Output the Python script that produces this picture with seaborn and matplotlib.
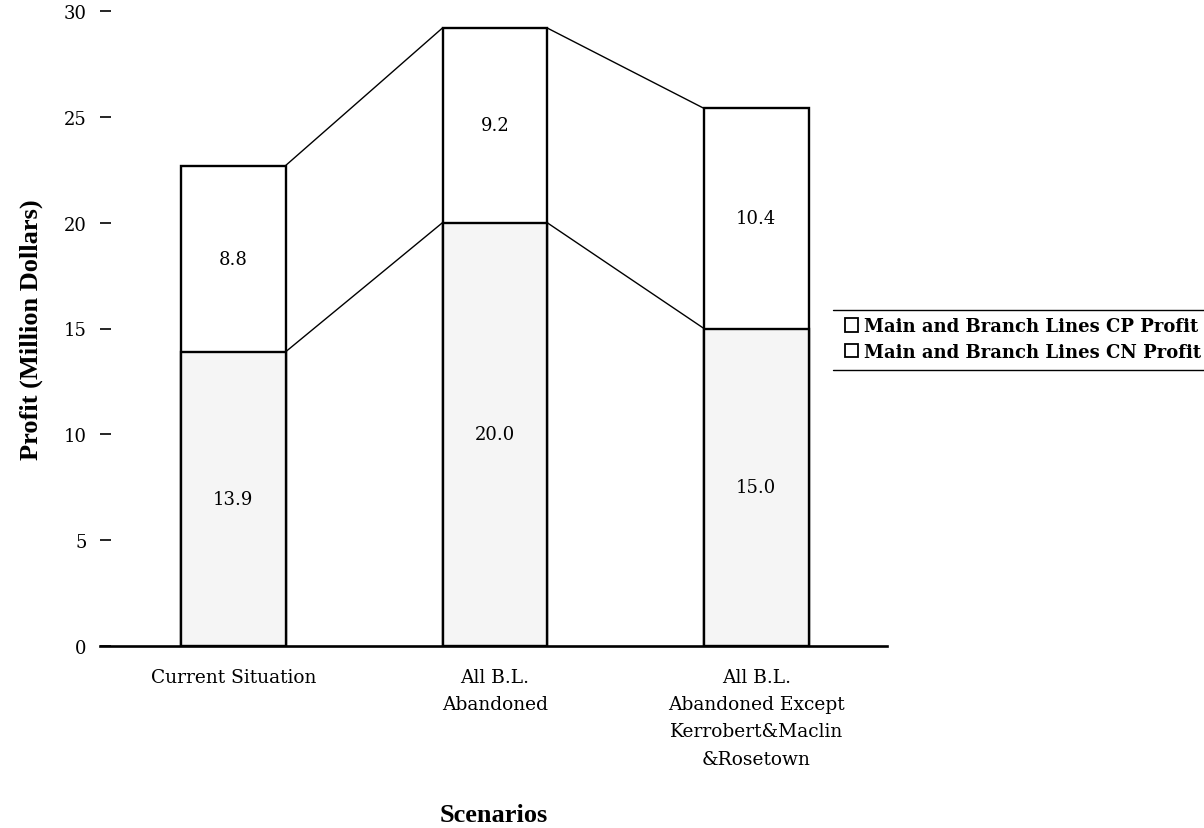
import matplotlib
matplotlib.use("Agg")
import matplotlib.pyplot as plt
from matplotlib.patches import Patch
from matplotlib.lines import Line2D
import seaborn as sns
import pandas as pd

# Profit by scenario (million dollars)
scenarios = [
    "Current Situation",
    "All B.L.\nAbandoned",
    "All B.L.\nAbandoned Except\nKerrobert&Maclin\n&Rosetown",
]
cn_profit = [13.9, 20.0, 15.0]   # Main and Branch Lines CN Profit (lower segment)
cp_profit = [8.8, 9.2, 10.4]     # Main and Branch Lines CP Profit (upper segment)
series_labels = ["Main and Branch Lines CP Profit", "Main and Branch Lines CN Profit"]
y_ticks = [0, 5, 10, 15, 20, 25, 30]

totals = [a + b for a, b in zip(cn_profit, cp_profit)]
df = pd.DataFrame({"scenario": scenarios, "cn": cn_profit, "cp": cp_profit, "total": totals})

sns.set_theme(style="white")
plt.rcParams["font.family"] = ["DejaVu Serif"]
plt.rcParams["text.color"] = "black"

W, H = 1204, 829
fig = plt.figure(figsize=(W / 100, H / 100), dpi=100)
ax = fig.add_axes([100 / W, 1 - 647 / H, (887 - 100) / W, (647 - 12) / H])

bar_w = 0.4
edge = dict(edgecolor="black", linewidth=1.7)
# stacked bars: full height first, then the CN part on top of it
sns.barplot(data=df, x="scenario", y="total", color="white", width=bar_w,
            saturation=1, ax=ax, **edge)
sns.barplot(data=df, x="scenario", y="cn", color="#f5f5f5", width=bar_w,
            saturation=1, ax=ax, **edge)

# connector lines between neighbouring bars
for i in range(len(scenarios) - 1):
    x0, x1 = i + bar_w / 2, i + 1 - bar_w / 2
    ax.plot([x0, x1], [totals[i], totals[i + 1]], color="black", lw=1.0)
    ax.plot([x0, x1], [cn_profit[i], cn_profit[i + 1]], color="black", lw=1.0)

# segment value labels
for i in range(len(scenarios)):
    ax.text(i, cn_profit[i] / 2, f"{cn_profit[i]:.1f}", ha="center", va="center",
            fontsize=13, color="black")
    ax.text(i, cn_profit[i] + cp_profit[i] / 2, f"{cp_profit[i]:.1f}", ha="center",
            va="center", fontsize=13, color="black")

ax.set_xlim(-0.51, 2.5)
ax.set_ylim(0, 30)
ax.set_yticks(y_ticks)
ax.set_yticklabels([str(t) for t in y_ticks])

for side in ["left", "top", "right"]:
    ax.spines[side].set_visible(False)
ax.spines["bottom"].set_linewidth(1.9)
ax.spines["bottom"].set_color("black")

ax.tick_params(axis="y", direction="in", length=8, width=1.2, pad=9.5,
               labelsize=13, colors="black", left=True)
ax.tick_params(axis="x", length=0, pad=16, labelsize=13.4, colors="black")
plt.setp(ax.get_xticklabels(), linespacing=1.65)

ax.set_ylabel("Profit (Million Dollars)", fontsize=19, fontweight="bold",
              family="Liberation Serif", color="black")
ax.yaxis.set_label_coords(-0.072, 0.5)
ax.set_xlabel("Scenarios", fontsize=19, fontweight="bold",
              family="Liberation Serif", color="black")
ax.xaxis.set_label_coords(0.5, -0.248)

# legend with rules above and below
handles = [Patch(facecolor="white", edgecolor="black", linewidth=1.3) for _ in series_labels]
leg = fig.legend(handles, series_labels, loc="center left",
                 bbox_to_anchor=(832 / W, 1 - 340 / H), frameon=False,
                 prop={"family": "DejaVu Serif", "weight": "bold", "size": 13},
                 handlelength=0.75, handleheight=0.75, handletextpad=0.3,
                 labelspacing=0.4, borderpad=0.2, labelcolor="black")
for ypix in (311, 371):
    fig.add_artist(Line2D([833 / W, 1.0], [1 - ypix / H, 1 - ypix / H],
                          transform=fig.transFigure, color="black", lw=1.0))

fig.savefig("out.png", dpi=100, facecolor="white")
